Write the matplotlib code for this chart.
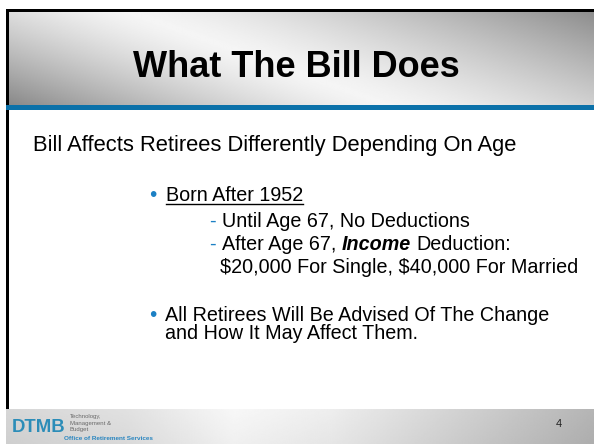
import numpy as np
import matplotlib
matplotlib.use("Agg")
import matplotlib.pyplot as plt
from matplotlib.patches import Rectangle

# ---- slide content ----
title = "What The Bill Does"
subtitle = "Bill Affects Retirees Differently Depending On Age"
bullet_1 = "Born After 1952"
dash_items = ["Until Age 67, No Deductions", "After Age 67,"]
bold_word = "Income"
after_bold = "Deduction:"
continuation = "$20,000 For Single, $40,000 For Married"
bullet_2 = ["All Retirees Will Be Advised Of The Change", "and How It May Affect Them."]
page_number = "4"
logo_big = "DTMB"
logo_small = ["Technology,", "Management &", "Budget"]
logo_office = "Office of Retirement Services"

W, H = 594, 444
FONT = "Liberation Sans"
BLUE = "#0b71a9"
BULLET_BLUE = "#1c80c4"

fig = plt.figure(figsize=(5.94, 4.44), dpi=100)
ax = fig.add_axes([0, 0, 1, 1])
ax.set_xlim(0, W)
ax.set_ylim(H, 0)
ax.axis("off")

# header gradient
u, v = np.meshgrid(np.linspace(0, 1, 400), np.linspace(0, 1, 120))
d = u - 0.2 - 0.45 * v
g = np.where(d < 0, 0.96 - 0.75 * np.abs(d) ** 1.3, 0.96 - 0.55 * np.abs(d) ** 1.3)
ax.imshow(g, cmap="gray", vmin=0, vmax=1, extent=[7, W, 106, 11],
          aspect="auto", interpolation="bilinear", zorder=0)

# footer gradient
fx = np.array([0, 120, 230, 330, 594]) / 594
fg = np.array([0.84, 0.88, 0.97, 0.93, 0.71])
uf, vf = np.meshgrid(np.linspace(0, 1, 400), np.linspace(0, 1, 40))
gf = np.interp(uf, fx, fg) - 0.03 * vf
ax.imshow(gf, cmap="gray", vmin=0, vmax=1, extent=[6, W, H, 409],
          aspect="auto", interpolation="bilinear", zorder=0)

# borders
ax.add_patch(Rectangle((6, 9), W - 6, 3, color="black", lw=0, zorder=2))
ax.add_patch(Rectangle((6, 9), 3, 400, color="black", lw=0, zorder=2))
ax.add_patch(Rectangle((6, 105), W - 6, 5, color=BLUE, lw=0, zorder=2))

# title & subtitle
ax.text(296.5, 77, title, ha="center", va="baseline", fontsize=26,
        weight="bold", family=FONT, color="black", zorder=3)
ax.text(33, 151, subtitle, ha="left", va="baseline", fontsize=15.8,
        family=FONT, color="black", zorder=3)

BODY = 14.2
fig.canvas.draw()
renderer = fig.canvas.get_renderer()
inv = ax.transData.inverted()


def right_edge(t):
    bb = t.get_window_extent(renderer=renderer)
    return inv.transform((bb.x1, bb.y0))[0]


# bullet 1
ax.text(149, 201, "\u2022", ha="left", va="baseline", fontsize=15,
        family=FONT, color=BULLET_BLUE, zorder=3)
t1 = ax.text(166, 201, bullet_1, ha="left", va="baseline", fontsize=BODY,
             family=FONT, color="black", zorder=3)
x_end = right_edge(t1)
ax.plot([166, x_end], [203.8, 203.8], color="black", lw=1.0, zorder=3)

# dashed sub items
ax.text(209.5, 227, "-", ha="left", va="baseline", fontsize=BODY,
        family=FONT, color=BULLET_BLUE, zorder=3)
ax.text(222, 227, dash_items[0], ha="left", va="baseline", fontsize=BODY,
        family=FONT, color="black", zorder=3)
ax.text(209.5, 250, "-", ha="left", va="baseline", fontsize=BODY,
        family=FONT, color=BULLET_BLUE, zorder=3)
ta = ax.text(222, 250, dash_items[1], ha="left", va="baseline", fontsize=BODY,
             family=FONT, color="black", zorder=3)
space = 0.278 * BODY * 100 / 72
xb = right_edge(ta) + space
tb = ax.text(xb, 250, bold_word, ha="left", va="baseline", fontsize=BODY,
             family=FONT, weight="bold", style="italic", color="black", zorder=3)
fig.canvas.draw()
xc = right_edge(tb) + space
ax.text(xc, 250, after_bold, ha="left", va="baseline", fontsize=BODY,
        family=FONT, color="black", zorder=3)
ax.text(220, 273, continuation, ha="left", va="baseline", fontsize=BODY,
        family=FONT, color="black", zorder=3, parse_math=False)

# bullet 2
ax.text(149, 321, "\u2022", ha="left", va="baseline", fontsize=15,
        family=FONT, color=BULLET_BLUE, zorder=3)
ax.text(165, 321, bullet_2[0], ha="left", va="baseline", fontsize=BODY,
        family=FONT, color="black", zorder=3)
ax.text(165, 339, bullet_2[1], ha="left", va="baseline", fontsize=BODY,
        family=FONT, color="black", zorder=3)

# footer
ax.text(12, 432, logo_big, ha="left", va="baseline", fontsize=13.3,
        weight="bold", family=FONT, color="#2c8db8", zorder=3)
for i, s in enumerate(logo_small):
    ax.text(70, 418 + i * 6.5, s, ha="left", va="baseline", fontsize=4.3,
            family=FONT, color="#6a6a6a", zorder=3)
ax.text(64, 440, logo_office, ha="left", va="baseline", fontsize=4.6,
        weight="bold", family=FONT, color="#2a86c0", zorder=3)
ax.text(559, 424, page_number, ha="center", va="center", fontsize=8,
        family=FONT, color="#222222", zorder=3)

fig.savefig("out.png", dpi=100)
